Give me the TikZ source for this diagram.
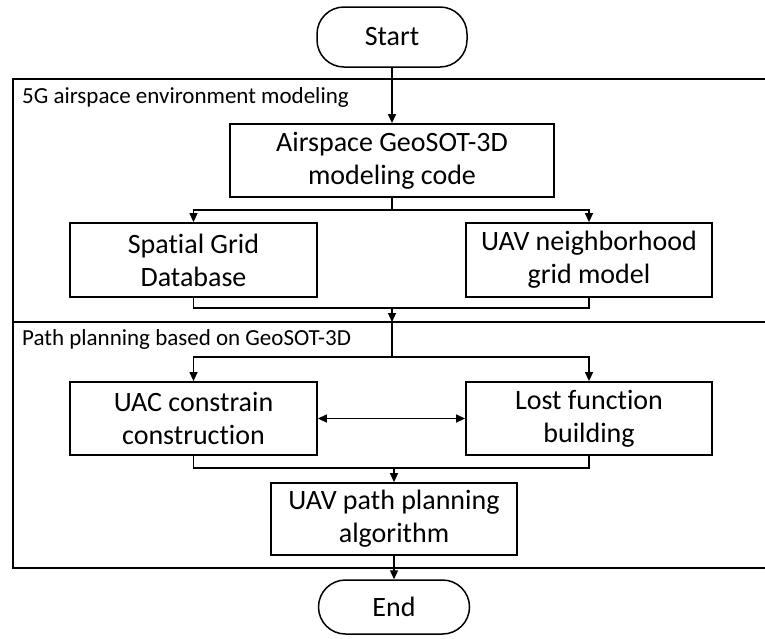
\documentclass[tikz,border=0pt]{standalone}
\usepackage{fontspec}
\setmainfont{Carlito}[Ligatures=NoCommon]
\usetikzlibrary{arrows.meta,calc}
\begin{document}
\begin{tikzpicture}[x=1pt,y=-1pt,
  box/.style={draw,line width=1.8pt,align=center,inner sep=0pt,font=\fontsize{28}{33}\selectfont},
  term/.style={draw,line width=1.5pt,rounded corners=27pt,inner sep=0pt,font=\fontsize{28}{33}\selectfont},
  frame/.style={draw,line width=2.6pt},
  lbl/.style={anchor=base west,inner sep=0pt,font=\fontsize{23}{27}\selectfont},
  conn/.style={line width=1.3pt},
  arr/.style={conn,-{Triangle[length=9pt,width=8pt]}},
  darr/.style={conn,{Triangle[length=9pt,width=8pt]}-{Triangle[length=9pt,width=8pt]}}]
\useasboundingbox (0,0) rectangle (765,638);
% frames
\draw[frame] (13,79) rectangle (772,322);
\draw[frame] (13,322) rectangle (772,568);
\node[lbl] (l1) at (22,103) {5G airspace environment modeling};
\node[lbl] (l2) at (22,345) {Path planning based on GeoSOT-3D};
% nodes
\node[term,minimum width=150pt,minimum height=60pt] (start) at (392,37) {Start};
\node[box,minimum width=324pt,minimum height=73pt] (air) at (392,160.5) {Airspace GeoSOT-3D\\modeling code};
\node[box,minimum width=247pt,minimum height=74pt] (sgd) at (193.5,260) {Spatial Grid\\Database};
\node[box,minimum width=246pt,minimum height=74pt] (uav) at (589,260) {UAV neighborhood\\grid model};
\node[box,minimum width=247pt,minimum height=73pt] (uac) at (193.5,418.5) {UAC constrain\\construction};
\node[box,minimum width=246pt,minimum height=73pt] (lost) at (589,418.5) {Lost function\\building};
\node[box,minimum width=246pt,minimum height=72pt] (path) at (394,519) {UAV path planning\\algorithm};
\node[term,minimum width=151pt,minimum height=54pt] (end) at (394,607) {End};
% coordinates
\coordinate (j1) at (392,210);
\coordinate (j2) at (392,308);
\coordinate (f1) at (392,322);
\coordinate (j3) at (392,357);
\coordinate (j4) at (394,468);
% connectors
\draw[arr] (start.south) -- (air.north);
\draw[conn] (air.south) -- (j1);
\draw[arr] (j1) -| (sgd.north);
\draw[arr] (j1) -| (uav.north);
\draw[conn] (sgd.south) |- (j2);
\draw[conn] (uav.south) |- (j2);
\draw[arr] (j2) -- (f1);
\draw[conn] (f1) -- (j3);
\draw[arr] (j3) -| (uac.north);
\draw[arr] (j3) -| (lost.north);
\draw[darr] (uac.east) -- (lost.west);
\draw[conn] (uac.south) |- (j4);
\draw[conn] (lost.south) |- (j4);
\draw[arr] (j4) -- (path.north);
\draw[arr] (path.south) -- (end.north);
\end{tikzpicture}
\end{document}
